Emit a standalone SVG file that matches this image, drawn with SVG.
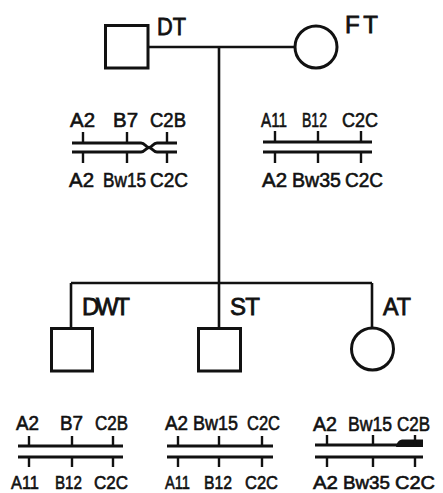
<svg xmlns="http://www.w3.org/2000/svg" width="443" height="493" viewBox="0 0 443 493">
  <style>
    .sym { fill: #fff; stroke: #111; stroke-width: 3; }
    .line { fill: none; stroke: #111; stroke-width: 2.6; }
    .chr { fill: none; stroke: #111; stroke-width: 3; stroke-linecap: butt; }
    .tick { fill: none; stroke: #111; stroke-width: 2.4; }
    .name { font-family: "Liberation Sans", Arial, sans-serif; font-size: 24px; fill: #111; stroke: #111; stroke-width: 0.8px; }
    .allele { font-family: "Liberation Sans", Arial, sans-serif; font-size: 20px; fill: #111; stroke: #111; stroke-width: 0.6px; }
    .low { font-size: 18px; }
  </style>
  <rect x="0" y="0" width="443" height="493" fill="#fff"/>

  <!-- pedigree lines -->
  <g id="connectors">
    <path class="line" d="M148 47 H295"/>
    <path class="line" d="M219 47 V328"/>
    <path class="line" d="M71 283 H372"/>
    <path class="line" d="M71 283 V328"/>
    <path class="line" d="M372 283 V328"/>
  </g>

  <!-- parents -->
  <g id="DT">
    <rect class="sym" x="105.5" y="25.5" width="42.5" height="42.5"/>
    <text class="name" x="157" y="35" textLength="29" lengthAdjust="spacingAndGlyphs">DT</text>
  </g>
  <g id="FT">
    <circle class="sym" cx="316" cy="47" r="21"/>
    <text class="name" x="345" y="33" textLength="33" lengthAdjust="spacing">FT</text>
  </g>

  <!-- children -->
  <g id="DWT">
    <rect class="sym" x="51.5" y="328.5" width="41" height="42.5"/>
    <text class="name" x="82" y="315" textLength="48" lengthAdjust="spacing">DWT</text>
  </g>
  <g id="ST">
    <rect class="sym" x="198.5" y="328.5" width="42" height="42.5"/>
    <text class="name" x="230" y="315" textLength="30" lengthAdjust="spacing">ST</text>
  </g>
  <g id="AT">
    <circle class="sym" cx="372.5" cy="349" r="21"/>
    <text class="name" x="383" y="315" textLength="28" lengthAdjust="spacingAndGlyphs">AT</text>
  </g>

  <!-- haplotypes of DT, the two strands pinched together at the crossover -->
  <g id="hap-DT">
    <path class="chr" d="M72 143 H141 C145 143 146 147.5 149 147.5 C152 147.5 153 143 157 143 H177"/>
    <path class="chr" d="M72 152 H141 C145 152 146 147.5 149 147.5 C152 147.5 153 152 157 152 H177"/>
    <path class="tick" d="M83 132 V143 M127 132 V143 M167 132 V143 M83 152 V163 M127 152 V163 M167 152 V163"/>
    <g class="allele">
      <text x="70" y="127" textLength="25" lengthAdjust="spacingAndGlyphs">A2</text>
      <text x="113" y="127" textLength="25" lengthAdjust="spacingAndGlyphs">B7</text>
      <text x="150" y="127" textLength="36" lengthAdjust="spacingAndGlyphs">C2B</text>
      <text x="69" y="187" textLength="25" lengthAdjust="spacingAndGlyphs">A2</text>
      <text x="103" y="187" textLength="43" lengthAdjust="spacingAndGlyphs">Bw15</text>
      <text x="150" y="187" textLength="38" lengthAdjust="spacingAndGlyphs">C2C</text>
    </g>
  </g>

  <!-- haplotypes of FT -->
  <g id="hap-FT">
    <path class="chr" d="M263 142 H372"/>
    <path class="chr" d="M263 152 H372"/>
    <path class="tick" d="M275 131 V142 M318 131 V142 M361 131 V142 M275 152 V163 M318 152 V163 M361 152 V163"/>
    <g class="allele">
      <text x="261" y="127" textLength="26" lengthAdjust="spacingAndGlyphs">A11</text>
      <text x="302" y="127" textLength="25" lengthAdjust="spacingAndGlyphs">B12</text>
      <text x="342" y="127" textLength="36" lengthAdjust="spacingAndGlyphs">C2C</text>
      <text x="262" y="187" textLength="25" lengthAdjust="spacingAndGlyphs">A2</text>
      <text x="292" y="187" textLength="49" lengthAdjust="spacingAndGlyphs">Bw35</text>
      <text x="345" y="187" textLength="38" lengthAdjust="spacingAndGlyphs">C2C</text>
    </g>
  </g>

  <!-- haplotypes of DWT -->
  <g id="hap-DWT">
    <path class="chr" d="M18 446 H123"/>
    <path class="chr" d="M18 457 H123"/>
    <path class="tick" d="M29 436 V446 M72 436 V446 M113 436 V446 M29 457 V467 M72 457 V467 M113 457 V467"/>
    <g class="allele">
      <text x="16" y="430" textLength="23" lengthAdjust="spacingAndGlyphs">A2</text>
      <text x="60" y="430" textLength="23" lengthAdjust="spacingAndGlyphs">B7</text>
      <text x="95" y="430" textLength="33" lengthAdjust="spacingAndGlyphs">C2B</text>
      <text class="low" x="11" y="489" textLength="28" lengthAdjust="spacingAndGlyphs">A11</text>
      <text class="low" x="55" y="489" textLength="27" lengthAdjust="spacingAndGlyphs">B12</text>
      <text class="low" x="94" y="489" textLength="34" lengthAdjust="spacingAndGlyphs">C2C</text>
    </g>
  </g>

  <!-- haplotypes of ST -->
  <g id="hap-ST">
    <path class="chr" d="M167 446 H273"/>
    <path class="chr" d="M167 457 H273"/>
    <path class="tick" d="M178 436 V446 M219 436 V446 M262 436 V446 M178 457 V467 M219 457 V467 M262 457 V467"/>
    <g class="allele">
      <text x="165" y="430" textLength="23" lengthAdjust="spacingAndGlyphs">A2</text>
      <text x="193" y="430" textLength="45" lengthAdjust="spacingAndGlyphs">Bw15</text>
      <text x="247" y="430" textLength="33" lengthAdjust="spacingAndGlyphs">C2C</text>
      <text class="low" x="165" y="489" textLength="25" lengthAdjust="spacingAndGlyphs">A11</text>
      <text class="low" x="204" y="489" textLength="28" lengthAdjust="spacingAndGlyphs">B12</text>
      <text class="low" x="245" y="489" textLength="33" lengthAdjust="spacingAndGlyphs">C2C</text>
    </g>
  </g>

  <!-- haplotypes of AT, recombinant segment drawn thick -->
  <g id="hap-AT">
    <path class="chr" d="M315 445 H423"/>
    <path d="M396 447 Q397 440 402 439.5 H423 V447 Z" fill="#111"/>
    <path class="chr" d="M315 457 H423"/>
    <path class="tick" d="M327 435 V445 M373 435 V445 M415 435 V445 M327 457 V467 M373 457 V467 M415 457 V467"/>
    <g class="allele">
      <text x="313" y="431" textLength="24" lengthAdjust="spacingAndGlyphs">A2</text>
      <text x="348" y="431" textLength="44" lengthAdjust="spacingAndGlyphs">Bw15</text>
      <text x="397" y="431" textLength="33" lengthAdjust="spacingAndGlyphs">C2B</text>
      <text class="low" x="313" y="489" textLength="25" lengthAdjust="spacingAndGlyphs">A2</text>
      <text class="low" x="343" y="489" textLength="47" lengthAdjust="spacingAndGlyphs">Bw35</text>
      <text class="low" x="395" y="489" textLength="40" lengthAdjust="spacingAndGlyphs">C2C</text>
    </g>
  </g>
</svg>
